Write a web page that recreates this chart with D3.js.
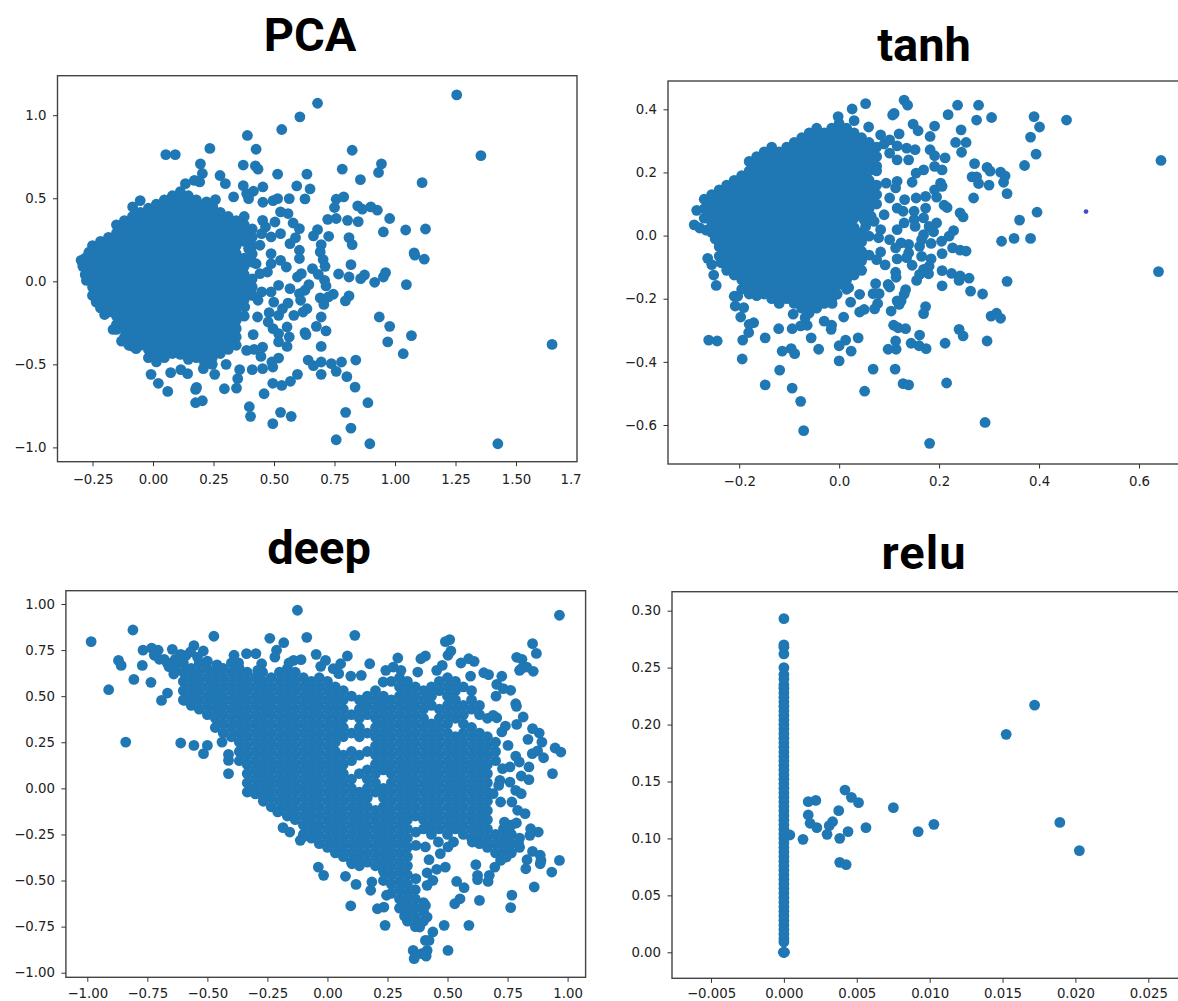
<!DOCTYPE html>
<html><head><meta charset="utf-8">
<script src="https://cdn.jsdelivr.net/npm/d3@7/dist/d3.min.js"></script>
<style>html,body{margin:0;padding:0;background:#fff;overflow:hidden}svg{display:block}</style>
</head><body><svg id="c" width="1178" height="1001"></svg>
<script>
const titles=["PCA","tanh","deep","relu"];
const pcaXTicks=[-0.25,0,0.25,0.5,0.75,1,1.25,1.5], pcaYTicks=[-1,-0.5,0,0.5,1];
const tanhXTicks=[-0.2,0,0.2,0.4,0.6], tanhYTicks=[-0.6,-0.4,-0.2,0,0.2,0.4];
const deepXTicks=[-1,-0.75,-0.5,-0.25,0,0.25,0.5,0.75,1], deepYTicks=[-1,-0.75,-0.5,-0.25,0,0.25,0.5,0.75,1];
const reluXTicks=[-0.005,0,0.005,0.01,0.015,0.02,0.025], reluYTicks=[0,0.05,0.1,0.15,0.2,0.25,0.3];

// dense region of each cloud: [x, [y, y, ...]]
const pcaCore=[
[-.28,[.14,.09,.04]],
[-.25,[.215,.165,.115,.065,.015,-.035,-.085]],
[-.217,[.24,.19,.14,.09,.04,-.01,-.06,-.11,-.16]],
[-.184,[.265,.215,.165,.115,.065,.015,-.035,-.085,-.135,-.185]],
[-.151,[.34,.29,.24,.19,.14,.09,.04,-.01,-.06,-.11,-.16,-.21,-.26,-.29]],
[-.118,[.365,.315,.265,.215,.165,.115,.065,.015,-.035,-.085,-.135,-.185,-.235,-.285,-.335]],
[-.085,[.39,.34,.29,.24,.19,.14,.09,.04,-.01,-.06,-.11,-.16,-.21,-.26,-.31,-.36,-.39]],
[-.052,[.415,.365,.315,.265,.215,.165,.115,.065,.015,-.035,-.085,-.135,-.185,-.235,-.285,-.335,-.385]],
[-.019,[.44,.39,.34,.29,.24,.19,.14,.09,.04,-.01,-.06,-.11,-.16,-.21,-.26,-.31,-.36,-.41,-.46]],
[.014,[.465,.415,.365,.315,.265,.215,.165,.115,.065,.015,-.035,-.085,-.135,-.185,-.235,-.285,-.335,-.385,-.435,-.485]],
[.047,[.49,.44,.39,.34,.29,.24,.19,.14,.09,.04,-.01,-.06,-.11,-.16,-.21,-.26,-.31,-.36,-.41,-.46]],
[.08,[.515,.465,.415,.365,.315,.265,.215,.165,.115,.065,.015,-.035,-.085,-.135,-.185,-.235,-.285,-.335,-.385,-.435]],
[.113,[.54,.49,.44,.39,.34,.29,.24,.19,.14,.09,.04,-.01,-.06,-.11,-.16,-.21,-.26,-.31,-.36,-.41,-.44]],
[.146,[.515,.465,.415,.365,.315,.265,.215,.165,.115,.065,.015,-.035,-.085,-.135,-.185,-.235,-.285,-.335,-.385,-.435,-.47]],
[.179,[.49,.44,.39,.34,.29,.24,.19,.14,.09,.04,-.01,-.06,-.11,-.16,-.21,-.26,-.31,-.36,-.41,-.46]],
[.212,[.465,.415,.365,.315,.265,.215,.165,.115,.065,.015,-.035,-.085,-.135,-.185,-.235,-.285,-.335,-.385,-.435,-.485]],
[.245,[.44,.39,.34,.29,.24,.19,.14,.09,.04,-.01,-.06,-.11,-.16,-.21,-.26,-.31,-.36,-.41,-.46,-.50]],
[.278,[.415,.365,.315,.265,.215,.165,.115,.065,.015,-.035,-.085,-.135,-.185,-.235,-.285,-.335,-.385,-.435]],
[.311,[.39,.34,.29,.24,.19,.14,.09,.04,-.01,-.06,-.11,-.16,-.21,-.26,-.31,-.36,-.41]],
[.344,[.365,.315,.265,.215,.165,.115,.065,.015,-.035,-.085,-.135,-.185,-.235,-.285,-.335,-.385]],
[.377,[.39,.34,.29,.24,.14,.09,.04,-.01,-.06,-.11,-.21]],
[.41,[.315,.265,.215,.165,.115,.015,-.035,-.085]]];
const pcaSparse=[[1.255,1.122],[1.355,.757],[1.649,-.38],[1.425,-.978],[.68,1.072],[.607,.99],[.532,.914],[.39,.878],[.426,.795],[.235,.80],[.053,.763],[.092,.763],[.196,.707],[.204,.649],[.171,.608],[.193,.598],[.134,.588],[.277,.637],[.299,.588],[.373,.70],[.423,.695],[.434,.675],[.515,.645],[.636,.645],[.373,.576],[.387,.528],[.415,.542],[.454,.568],[.395,.498],[.454,.476],[.496,.486],[.515,.498],[.563,.498],[.594,.574],[.649,.556],[.628,.496],[.823,.789],[.782,.675],[.944,.707],[.932,.655],[.857,.612],[1.112,.594],[.757,.494],[.788,.508],[.75,.444],[.846,.454],[.865,.434],[.90,.448],[.927,.428],[.978,.378],[.722,.373],[.757,.378],[.804,.367],[.848,.359],[1.044,.309],[1.126,.315],[.952,.297],[.68,.311],[.663,.273],[.726,.271],[.81,.263],[.823,.221],[.695,.221],[.691,.177],[.703,.131],[.711,.09],[.818,.10],[1.079,.171],[1.082,.157],[1.121,.133],[.961,.052],[.952,.026],[.874,.038],[.858,.016],[.767,.044],[.81,.026],[.916,-.006],[1.047,-.02],[.709,.006],[.715,-.028],[.745,-.078],[.725,-.094],[.691,-.10],[.81,-.088],[.795,-.118],[.706,-.139],[.695,-.215],[.935,-.215],[.978,-.271],[1.068,-.327],[.97,-.365],[1.034,-.436],[.675,-.271],[.715,-.299],[.628,-.309],[.632,-.321],[.695,-.392],[.838,-.474],[.779,-.486],[.737,-.496],[.695,-.486],[.641,-.474],[.663,-.508],[.757,-.542],[.695,-.56],[.801,-.574],[.597,-.56],[.835,-.637],[.568,-.602],[.532,-.627],[.495,-.614],[.459,-.677],[.888,-.731],[.796,-.789],[.818,-.884],[.757,-.954],[.896,-.978],[.495,-.857],[.527,-.789],[.571,-.813],[.398,-.755],[.403,-.813],[.204,-.719],[.176,-.731],[.18,-.639],[.176,-.651],[.061,-.663],[.022,-.614],[-.008,-.56],[.295,-.647],[.345,-.643],[.35,-.586],[.073,-.55],[.143,-.556],[.115,-.532],[.255,-.56],[.208,-.526],[.302,-.50],[.358,-.532],[.41,-.532],[.453,-.526],[.495,-.516],[.519,-.462],[.446,-.452],[.491,-.486],[.387,-.416],[.453,-.396],[.418,-.41],[.554,-.392],[.519,-.365],[.563,-.335],[.519,-.315],[.554,-.275],[.496,-.285],[.414,-.321],[.476,-.245],[.432,-.215],[.48,-.189],[.519,-.205],[.535,-.165],[.582,-.205],[.558,-.131],[.499,-.125],[.434,-.114],[.379,-.155],[.395,-.064],[.449,-.064],[.488,-.064],[.519,-.024],[.566,-.044],[.605,-.074],[.61,-.114],[.636,-.165],[.62,-.185],[.644,-.02],[.628,-.054],[.597,.026],[.659,.076],[.683,.042],[.613,.046],[.551,.086],[.527,.126],[.488,.106],[.473,.056],[.442,.046],[.426,.106],[.605,.187],[.605,.137],[.566,.227],[.589,.263],[.488,.167],[.488,.267],[.527,.287],[.449,.287],[.442,.217],[.395,.197],[.605,.317],[.579,.351],[.504,.357],[.453,.367],[.465,.327],[.527,.418],[.558,.408],[-.084,.448],[-.053,.486],[.177,.488],[.221,.478],[.258,.492],[.247,.448],[.333,.508],[-.297,.126],[-.29,.09],[-.275,.005],[-.265,.175],[-.235,-.125],[-.2,-.2],[-.165,-.29],[-.13,-.36],[-.1,-.385],[-.07,-.405]];

const tanhCore=[
[-.285,[.08]],
[-.27,[.115,.085,.055]],
[-.255,[.13,.10,.07,.04,.01]],
[-.24,[.145,.115,.085,.055,.025,-.005,-.035,-.065]],
[-.225,[.16,.13,.10,.07,.04,.01,-.02,-.05,-.08,-.11]],
[-.21,[.175,.145,.115,.085,.055,.025,-.005,-.035,-.065,-.095,-.125]],
[-.195,[.19,.16,.13,.10,.07,.04,.01,-.02,-.05,-.08,-.11,-.14,-.17]],
[-.18,[.235,.205,.175,.145,.115,.085,.055,.025,-.005,-.035,-.065,-.095,-.125,-.155,-.185]],
[-.165,[.25,.22,.19,.16,.13,.10,.07,.04,.01,-.02,-.05,-.08,-.11,-.14,-.17,-.19]],
[-.15,[.265,.235,.205,.175,.145,.115,.085,.055,.025,-.005,-.035,-.065,-.095,-.125,-.155,-.185]],
[-.135,[.28,.25,.22,.19,.16,.13,.10,.07,.04,.01,-.02,-.05,-.08,-.11,-.14,-.17,-.20]],
[-.12,[.265,.235,.205,.175,.145,.115,.085,.055,.025,-.005,-.035,-.065,-.095,-.125,-.155,-.185,-.215]],
[-.105,[.28,.25,.22,.19,.16,.13,.10,.07,.04,.01,-.02,-.05,-.08,-.11,-.14,-.17,-.20]],
[-.09,[.295,.265,.235,.205,.175,.145,.115,.085,.055,.025,-.005,-.035,-.065,-.095,-.125,-.155,-.185,-.215]],
[-.075,[.31,.28,.25,.22,.19,.16,.13,.10,.07,.04,.01,-.02,-.05,-.08,-.11,-.14,-.17,-.20,-.23]],
[-.06,[.325,.295,.265,.235,.205,.175,.145,.115,.085,.055,.025,-.005,-.035,-.065,-.095,-.125,-.155,-.185,-.215,-.245]],
[-.045,[.34,.31,.28,.25,.22,.19,.16,.13,.10,.07,.04,.01,-.02,-.05,-.08,-.11,-.14,-.17,-.20,-.23]],
[-.03,[.325,.295,.265,.235,.205,.175,.145,.115,.085,.055,.025,-.005,-.035,-.065,-.095,-.125,-.155,-.185,-.215]],
[-.015,[.34,.31,.28,.25,.22,.19,.16,.13,.10,.07,.04,.01,-.02,-.05,-.08,-.11,-.14,-.17,-.20]],
[0,[.355,.325,.295,.265,.235,.205,.175,.145,.115,.085,.055,.025,-.005,-.035,-.065,-.095,-.125,-.155]],
[.015,[.34,.31,.28,.25,.22,.19,.16,.13,.10,.07,.04,.01,-.02,-.05,-.08,-.11,-.14,-.17]],
[.03,[.325,.295,.265,.235,.205,.175,.145,.115,.085,.055,.025,-.005,-.035,-.065,-.095,-.125]],
[.045,[.31,.28,.25,.22,.19,.16,.13,.10,.07,.01,-.02,-.05,-.08,-.11]],
[.06,[.295,.265,.235,.205,.175,.145,.115,.085]],
[.075,[.28,.25,.22,.16,.13,.10]]];
const tanhSparse=[[.644,.238],[.639,-.114],[.455,.366],[.39,.377],[.401,.344],[.383,.312],[.394,.258],[.371,.222],[.396,.074],[.361,.049],[.35,-.009],[.383,-.009],[.325,-.018],[.336,.133],[.336,-.145],[.332,.189],[.323,.201],[.329,.169],[.305,.374],[.279,.413],[.275,.366],[.237,.413],[.218,.383],[.244,.335],[.233,.295],[.254,.295],[.245,.264],[.271,.228],[.296,.216],[.302,.204],[.266,.186],[.275,.186],[.279,.165],[.30,.16],[.269,.119],[.053,.418],[.13,.429],[.137,.413],[.026,.401],[-.002,.377],[.03,.364],[.059,.344],[.107,.382],[.11,.387],[.148,.353],[.158,.332],[.191,.347],[.182,.314],[.083,.319],[.12,.322],[.101,.303],[.182,.272],[.191,.253],[.212,.246],[.191,.219],[.206,.208],[.169,.208],[.152,.272],[.135,.277],[.116,.284],[.101,.261],[.116,.24],[.139,.24],[.154,.198],[.146,.169],[.116,.172],[.113,.151],[.094,.166],[.203,.166],[.191,.145],[.206,.156],[.101,.119],[.131,.114],[.154,.119],[.173,.124],[.195,.122],[.21,.096],[.216,.089],[.242,.072],[.248,.059],[.173,.087],[.15,.077],[.128,.077],[.116,.087],[.09,.066],[.064,.061],[.15,.051],[.169,.056],[.195,.04],[.18,.029],[.189,.012],[.229,.016],[.22,-.002],[.205,-.018],[.13,.04],[.116,.019],[.152,.029],[.169,.003],[.165,-.013],[.184,-.025],[.161,-.034],[.139,-.028],[.124,-.023],[.113,-.039],[.101,-.013],[.079,-.007],[.06,-.002],[.083,.019],[.053,.029],[.227,-.039],[.242,-.046],[.254,-.049],[.206,-.057],[.184,-.074],[.165,-.066],[.139,-.055],[.116,-.074],[.135,-.07],[.083,-.052],[.06,-.062],[.075,-.076],[.092,-.093],[.146,-.094],[.169,-.107],[.18,-.097],[.179,-.121],[.161,-.123],[.155,-.142],[.113,-.116],[.114,-.132],[.206,-.111],[.225,-.12],[.242,-.128],[.24,-.142],[.26,-.135],[.206,-.159],[.263,-.176],[.287,-.185],[.098,-.155],[.101,-.163],[.073,-.152],[.068,-.184],[.08,-.184],[.133,-.171],[.13,-.186],[.124,-.207],[.116,-.207],[.12,-.218],[.173,-.225],[.169,-.247],[.077,-.215],[.071,-.232],[.05,-.234],[.041,-.242],[.104,-.239],[.009,-.258],[.023,-.211],[.041,-.186],[.019,-.165],[-.014,-.215],[-.004,-.186],[.304,-.255],[.315,-.246],[.323,-.262],[.109,-.284],[.118,-.292],[.133,-.295],[.161,-.315],[.24,-.297],[.248,-.318],[.296,-.334],[.212,-.341],[.113,-.334],[.144,-.341],[.16,-.349],[.174,-.358],[.098,-.36],[.114,-.36],[.038,-.324],[.013,-.331],[0,-.349],[.024,-.366],[-.041,-.36],[-.056,-.324],[-.015,-.284],[-.016,-.297],[-.03,-.271],[-.064,-.284],[-.077,-.286],[-.094,-.295],[-.068,-.26],[-.092,-.249],[-.121,-.295],[-.148,-.324],[-.096,-.358],[-.089,-.374],[-.114,-.366],[-.193,-.331],[-.244,-.334],[-.261,-.331],[-.194,-.391],[-.181,-.307],[-.171,-.276],[-.18,-.281],[-.197,-.258],[-.208,-.223],[-.191,-.228],[-.21,-.192],[-.203,-.192],[-.246,-.158],[-.251,-.125],[-.255,-.092],[-.263,-.072],[-.236,-.086],[-.266,.017],[-.279,.024],[-.29,.034],[-.248,-.011],[0,-.397],[.068,-.423],[.112,-.423],[-.119,-.426],[-.148,-.473],[-.094,-.483],[-.077,-.525],[-.071,-.618],[.051,-.493],[.128,-.469],[.139,-.473],[.215,-.467],[.292,-.592],[.181,-.658],[.05,.05],[.07,.045],[.075,.205],[.09,.29]];
const tanhMinor=[[.494,.076]];

const deepCore=[
[-.70,[.70]],
[-.667,[.68]],
[-.634,[.70,.65]],
[-.60,[.68,.63,.58,.53,.48]],
[-.567,[.65,.60,.55,.50,.45]],
[-.534,[.68,.63,.58,.53,.48,.43]],
[-.50,[.65,.60,.55,.50,.45,.40]],
[-.467,[.63,.58,.53,.48,.43,.38,.33]],
[-.434,[.65,.60,.55,.50,.45,.40,.35,.30]],
[-.40,[.68,.63,.58,.53,.48,.43,.38,.33,.28]],
[-.367,[.65,.60,.55,.50,.45,.40,.35,.30,.25,.20,.15]],
[-.334,[.63,.58,.53,.48,.43,.38,.33,.28,.23,.18,.13,.08,.03,-.02]],
[-.30,[.60,.55,.50,.45,.40,.35,.30,.25,.20,.15,.10,.05,0,-.03]],
[-.267,[.58,.53,.48,.43,.38,.33,.28,.23,.18,.13,.08,.03,-.02,-.07]],
[-.234,[.60,.55,.50,.45,.40,.35,.30,.25,.20,.15,.10,.05,0,-.05,-.10]],
[-.20,[.63,.58,.53,.48,.43,.38,.33,.28,.23,.18,.13,.08,.03,-.02,-.07,-.12]],
[-.167,[.65,.60,.55,.50,.45,.40,.35,.30,.25,.20,.15,.10,.05,0,-.05,-.10,-.15]],
[-.134,[.63,.58,.53,.48,.43,.38,.33,.28,.23,.18,.13,.08,.03,-.02,-.07,-.12,-.17]],
[-.10,[.60,.55,.50,.45,.40,.35,.30,.25,.20,.15,.10,.05,0,-.05,-.10,-.15,-.20,-.25]],
[-.067,[.58,.53,.48,.43,.38,.33,.28,.23,.18,.13,.08,.03,-.02,-.07,-.12,-.17,-.22,-.27]],
[-.034,[.60,.55,.50,.45,.40,.35,.30,.25,.20,.15,.10,.05,0,-.05,-.10,-.15,-.20,-.25,-.30]],
[0,[.58,.53,.48,.43,.38,.33,.28,.23,.18,.13,.08,.03,-.02,-.07,-.12,-.17,-.22,-.27,-.32]],
[.033,[.55,.50,.45,.40,.35,.30,.25,.20,.15,.10,.05,0,-.05,-.10,-.15,-.20,-.25,-.30,-.35]],
[.066,[.53,.48,.43,.38,.33,.28,.18,.13,.08,.03,-.02,-.07,-.12,-.17,-.22,-.27,-.32,-.37]],
[.10,[.50,.40,.30,.20,.15,.05,0,-.05,-.10,-.15,-.20,-.25,-.30,-.35,-.40]],
[.133,[.48,.43,.38,.33,.28,.18,.08,-.02,-.07,-.12,-.17,-.22,-.27,-.32,-.37,-.42]],
[.166,[.50,.45,.40,.30,.20,.10,.05,0,-.05,-.10,-.15,-.20,-.25,-.30,-.35,-.40]],
[.20,[.53,.48,.43,.38,.33,.28,.23,.18,.13,.08,.03,-.02,-.12,-.17,-.22,-.27,-.32,-.37,-.42]],
[.233,[.50,.45,.40,.35,.30,.25,.20,.15,.10,0,-.05,-.10,-.15,-.20,-.25,-.30,-.35,-.40,-.45,-.50]],
[.266,[.58,.48,.43,.38,.33,.28,.23,.18,.13,.08,.03,-.02,-.07,-.12,-.17,-.22,-.27,-.32,-.37,-.42,-.47,-.52,-.57]],
[.30,[.60,.55,.50,.45,.40,.35,.30,.25,.20,.15,.10,.05,0,-.05,-.10,-.15,-.20,-.25,-.30,-.35,-.40,-.45,-.50,-.55,-.60,-.65]],
[.333,[.58,.53,.48,.43,.38,.33,.28,.23,.18,.13,.08,.03,-.02,-.07,-.12,-.17,-.22,-.27,-.32,-.37,-.42,-.47,-.52,-.57,-.62,-.67,-.72]],
[.366,[.55,.50,.45,.40,.35,.30,.25,.20,.15,.10,.05,0,-.05,-.10,-.15,-.55,-.60,-.65,-.70,-.75]],
[.40,[.53,.48,.43,.38,.33,.28,.23,.18,.13,.08,.03,-.02,-.07,-.12,-.17,-.22,-.62,-.67,-.72]],
[.433,[.55,.50,.45,.35,.30,.25,.20,.15,.10,.05,0,-.05,-.10,-.15,-.20,-.25]],
[.466,[.58,.53,.43,.38,.33,.28,.23,.18,.13,.08,.03,-.02,-.07,-.12,-.17,-.22]],
[.50,[.60,.55,.50,.45,.40,.35,.30,.25,.20,.15,.10,.05,0,-.05,-.10,-.15,-.20,-.25]],
[.533,[.58,.53,.48,.43,.38,.28,.23,.18,.13,.08,.03,-.02,-.07,-.12,-.17,-.22]],
[.566,[.55,.45,.40,.35,.30,.25,.20,.15,.10,.05,0,-.05,-.10,-.15,-.20,-.25]],
[.60,[.53,.48,.43,.33,.28,.23,.18,.13,.08,.03,-.02,-.07,-.12,-.17,-.22,-.27]],
[.633,[.45,.40,.30,.25,.20,.15,.10,.05,0,-.05,-.10,-.15,-.20,-.25,-.30]],
[.666,[.38,.28,.23,.18,.13,.08,.03,-.02,-.07,-.12,-.17,-.22,-.27,-.32]],
[.70,[.25,.20,.15,-.25,-.30,-.35]],
[.733,[-.22,-.27,-.32,-.37]],
[.766,[-.20,-.25,-.30,-.35]],
[.80,[-.27,-.32]]];
const deepSparse=[[-.984,.796],[-.81,.859],[-.125,.966],[.966,.939],[-.473,.825],[-.24,.814],[-.182,.79],[-.086,.819],[.114,.83],[.491,.796],[.509,.807],[.854,.785],[.87,.732],[.788,.711],[.81,.70],[.807,.649],[.83,.658],[.857,.635],[.80,.64],[.726,.608],[.763,.532],[.705,.564],[.732,.541],[.702,.50],[.784,.459],[.787,.445],[.815,.387],[.788,.347],[.741,.338],[.726,.306],[.705,.383],[.69,.396],[.854,.324],[.882,.30],[.835,.266],[.893,.251],[.752,.233],[.948,.219],[.972,.197],[.875,.203],[.853,.188],[.90,.166],[.784,.175],[.799,.143],[.76,.116],[.729,.107],[.839,.116],[.937,.08],[.807,.067],[.839,.047],[.76,.034],[.718,.043],[.713,.016],[.784,-.011],[.807,-.029],[.69,-.029],[.721,-.074],[.768,-.074],[.792,-.119],[.823,-.137],[.737,-.183],[.787,-.188],[.846,-.219],[.878,-.237],[.843,-.255],[.796,-.30],[.854,-.342],[.886,-.363],[.889,-.391],[.831,-.387],[.886,-.409],[.826,-.436],[.966,-.391],[.934,-.454],[.861,-.535],[.768,-.579],[.763,-.647],[.721,-.391],[.745,-.373],[.697,-.427],[.674,-.472],[.669,-.505],[.618,-.414],[.625,-.472],[.625,-.495],[.538,-.505],[.569,-.539],[.633,-.608],[.552,-.599],[.53,-.626],[.589,-.743],[.486,-.743],[.502,-.879],[.491,-.427],[.455,-.439],[.415,-.458],[.439,-.499],[.415,-.526],[.368,-.49],[.423,-.387],[.408,-.318],[.368,-.309],[.368,-.237],[.462,-.291],[.47,-.354],[.502,-.318],[.525,-.291],[.603,-.291],[.439,-.779],[.408,-.825],[.415,-.879],[.411,-.91],[.357,-.879],[.361,-.924],[.392,-.897],[.423,-.825],[.415,-.698],[.408,-.635],[.384,-.752],[.321,-.693],[.24,-.743],[.208,-.653],[.235,-.644],[.097,-.637],[.246,-.58],[.18,-.553],[.185,-.508],[.119,-.521],[.075,-.477],[-.016,-.472],[-.038,-.427],[.102,-.409],[-.102,-.264],[-.113,-.282],[-.157,-.237],[-.185,-.213],[-.207,-.128],[-.266,-.056],[-.329,-.016],[-.412,.08],[-.412,.152],[-.412,.184],[-.516,.188],[-.5,.233],[-.556,.233],[-.611,.246],[-.84,.251],[-.439,.251],[-.911,.535],[-.806,.591],[-.735,.575],[-.691,.477],[-.666,.517],[-.596,.477],[-.768,.75],[-.732,.761],[-.705,.749],[-.87,.694],[-.859,.667],[-.771,.667],[-.721,.722],[-.646,.754],[-.611,.727],[-.556,.774],[-.517,.745],[-.541,.712],[-.389,.722],[-.337,.731],[-.298,.731],[-.274,.676],[-.29,.64],[-.212,.749],[-.219,.712],[-.141,.694],[-.11,.698],[-.047,.727],[-.008,.694],[-.028,.662],[.024,.649],[.055,.676],[.083,.718],[.047,.622],[.176,.676],[.097,.609],[.141,.613],[.293,.707],[.243,.64],[.274,.658],[.306,.64],[.389,.703],[.408,.718],[.376,.631],[.455,.64],[.478,.667],[.502,.722],[.514,.745],[.556,.68],[.588,.703],[.611,.689],[.651,.627],[.671,.617],[.596,.609],[.232,.577],[-.68,.70],[-.66,.66],[-.64,.62],[-.62,.69],[-.59,.72],[-.57,.74],[-.50,.69],[-.46,.67],[-.37,.68],[-.27,.63],[-.16,.68]];

const reluColumn=[[0,[.293,.27,.268,.262,.25,.244,.24,.235,.232,.228,.224,.22,.216,.212,.208,.204,.2,.196,.192,.188,.184,.18,.176,.172,.168,.164,.16,.156,.152,.148,.144,.14,.136,.132,.128,.124,.12,.116,.112,.108,.104,.1,.096,.092,.088,.084,.08,.076,.072,.068,.064,.06,.056,.052,.048,.044,.04,.036,.032,.028,.024,.02,.016,.012,.009,0]]];
const reluSparse=[[.0172,.2171],[.01525,.1914],[.01893,.1141],[.02027,.0893],[.01029,.1124],[.00921,.106],[.00751,.127],[.00563,.1095],[.00512,.1314],[.00463,.1361],[.00419,.1425],[.00219,.1334],[.00167,.1323],[.00167,.1206],[.00376,.1244],[.00334,.1147],[.00311,.1112],[.0018,.1133],[.00226,.1095],[.00296,.1036],[.0044,.106],[.00383,.1001],[.00131,.0992],[.00041,.103],[.00383,.079],[.00427,.077],[.00004,0],[-.00004,0]];

const expand=c=>c.flatMap(([x,ys])=>ys.map(y=>[x,y]));
const fmt=f=>v=>d3.format(f)(v).replace("-","\u2212");
const BLUE="#1f77b4";
const panels=[
 {title:titles[0],tx:310,ty:51,pad:8,box:[57.5,577,75.7,461.7],xd:[-.25,1.5],xr:[92.5,516],yd:[-1,1],yr:[447.4,115.2],
  xt:pcaXTicks,yt:pcaYTicks,xf:".2f",yf:".1f",pts:[...expand(pcaCore),...pcaSparse]},
 {title:titles[1],tx:924,ty:61,pad:8,box:[668,1190,81,464],xd:[-.2,.6],xr:[739.2,1139],yd:[-.6,.4],yr:[425,109.3],
  xt:tanhXTicks,yt:tanhYTicks,xf:".1f",yf:".1f",pts:[...expand(tanhCore),...tanhSparse],minor:tanhMinor},
 {title:titles[2],tx:319,ty:564,pad:7,box:[65.9,585.6,590.7,977.3],xd:[-1,1],xr:[87.3,567.6],yd:[-1,1],yr:[972.7,604],
  xt:deepXTicks,yt:deepYTicks,xf:".2f",yf:".2f",pts:[...expand(deepCore),...deepSparse]},
 {title:titles[3],tx:924,ty:569,pad:6,ls:1,box:[672,1190,591.7,978.3],xd:[0,.025],xr:[783.9,1148.3],yd:[0,.3],yr:[952.3,610.7],
  xt:reluXTicks,yt:reluYTicks,xf:".3f",yf:".2f",pts:[...expand(reluColumn),...reluSparse]}
];
const svg=d3.select("#c");
svg.append("rect").attr("width",1178).attr("height",1001).attr("fill","#fff");
panels.forEach(p=>{
  const x=d3.scaleLinear().domain(p.xd).range(p.xr), y=d3.scaleLinear().domain(p.yd).range(p.yr);
  const [l,r,t,b]=p.box, g=svg.append("g");
  g.append("g").selectAll("circle").data(p.pts).join("circle")
    .attr("cx",d=>x(d[0])).attr("cy",d=>y(d[1])).attr("r",5.4).attr("fill",BLUE);
  if(p.minor) g.append("g").selectAll("circle").data(p.minor).join("circle")
    .attr("cx",d=>x(d[0])).attr("cy",d=>y(d[1])).attr("r",2.4).attr("fill","#4a48c8");
  g.append("rect").attr("x",l).attr("y",t).attr("width",r-l).attr("height",b-t)
    .attr("fill","none").attr("stroke","#444").attr("stroke-width",1.4);
  const ax=g.append("g").attr("transform",`translate(0,${b})`)
    .call(d3.axisBottom(x).tickValues(p.xt).tickFormat(fmt(p.xf)).tickSize(4.5).tickPadding(p.pad));
  const ay=g.append("g").attr("transform",`translate(${l},0)`)
    .call(d3.axisLeft(y).tickValues(p.yt).tickFormat(fmt(p.yf)).tickSize(4.5).tickPadding(6.5));
  [ax,ay].forEach(a=>{
    a.select(".domain").attr("stroke","none");
    a.selectAll(".tick line").attr("stroke","#333").attr("stroke-width",1);
    a.selectAll("text").attr("font-family","'DejaVu Sans'").attr("font-size",13.3).attr("fill","#222");
  });
  g.append("text").attr("x",p.tx).attr("y",p.ty).attr("text-anchor","middle")
    .attr("letter-spacing",p.ls||0)
    .attr("font-family","Roboto").attr("font-weight",700).attr("font-size",47).attr("fill","#000").text(p.title);
});
// the source image is cropped through the last x tick label of the first panel
svg.append("text").attr("x",571).attr("y",484).attr("text-anchor","middle")
  .attr("font-family","'DejaVu Sans'").attr("font-size",13.3).attr("fill","#222").text("1.7");
</script></body></html>
